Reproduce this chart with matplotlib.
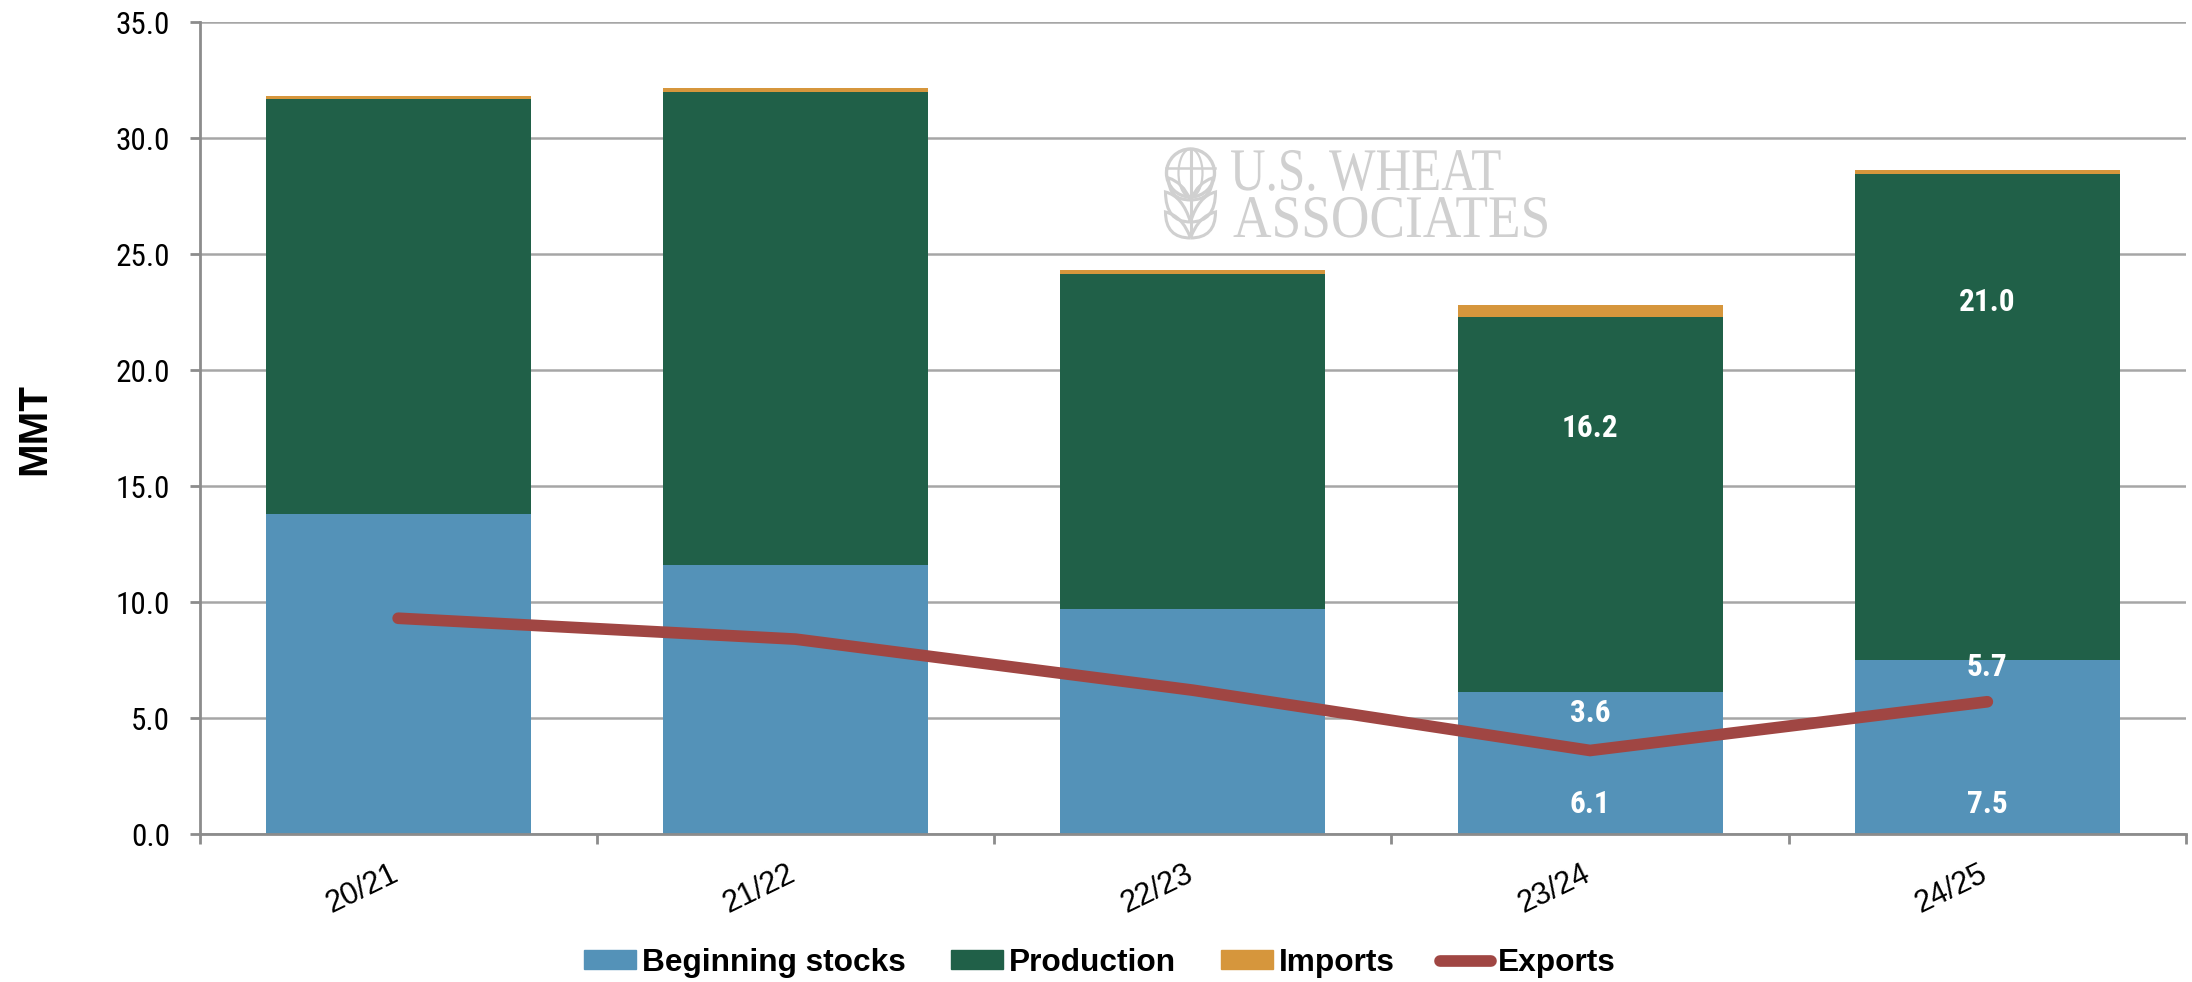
import matplotlib
matplotlib.use("Agg")
import matplotlib.pyplot as plt
from matplotlib.lines import Line2D
from matplotlib.patches import Circle, Ellipse, Patch, PathPatch
from matplotlib.path import Path
from matplotlib.patheffects import AbstractPathEffect
from matplotlib.transforms import Affine2D

COND = ['Roboto Condensed', 'Roboto', 'DejaVu Sans']
SANS = ['Liberation Sans', 'DejaVu Sans']
plt.rcParams['font.family'] = COND

# Values (MMT)
years = ["20/21", "21/22", "22/23", "23/24", "24/25"]
beginning = [13.8, 11.6, 9.7, 6.1, 7.5]
production = [17.9, 20.4, 14.45, 16.2, 20.95]
imports = [0.12, 0.15, 0.15, 0.5, 0.15]
exports = [9.3, 8.4, 6.2, 3.6, 5.7]
y_ticks = [0, 5, 10, 15, 20, 25, 30, 35]

BLUE = "#5492B8"
GREEN = "#206048"
ORANGE = "#D6963C"
RED = "#A04643"
GRID = "#A6A6A6"
AXIS = "#8C8C8C"
LOGO = "#D0D0D0"


class Squeeze(AbstractPathEffect):
    # reshapes the serif logo text, there is no condensed version of it
    def __init__(self, sx, sy):
        super().__init__()
        self.sx = sx
        self.sy = sy

    def draw_path(self, renderer, gc, tpath, affine, rgbFace=None):
        renderer.draw_path(gc, tpath, Affine2D().scale(self.sx, self.sy) + affine, rgbFace)


W, H = 2192, 982
fig = plt.figure(figsize=(W / 100, H / 100), dpi=100)
ax = fig.add_axes([199.5 / W, 1 - 834 / H, (2186 - 199.5) / W, (834 - 22) / H])

x = [i + 0.5 for i in range(len(years))]
bottom2 = [a + b for a, b in zip(beginning, production)]
ax.bar(x, beginning, width=0.667, color=BLUE, zorder=3)
ax.bar(x, production, width=0.667, bottom=beginning, color=GREEN, zorder=3)
ax.bar(x, imports, width=0.667, bottom=bottom2, color=ORANGE, zorder=3)
ax.plot(x, exports, color=RED, lw=8.4, solid_capstyle="round", solid_joinstyle="miter", zorder=4)

ax.set_xlim(0, 5)
ax.set_ylim(0, 35)
ax.set_yticks(y_ticks)
ax.set_yticklabels([f"{v:.1f}" for v in y_ticks], fontsize=22.5)
ax.set_xticks(range(6))
ax.set_xticklabels([])
# year labels sit left of the bar centres in the original
ax.set_xticks([c - 0.09 for c in x], minor=True)
ax.set_xticklabels(years, minor=True, fontsize=22, family=SANS, rotation=26, ha="center")
ax.tick_params(axis="x", which="minor", length=0, pad=18)
ax.tick_params(axis="x", which="major", length=7.5, width=2, color=AXIS)
ax.tick_params(axis="y", length=7, width=2, color=AXIS, pad=14)
ax.yaxis.grid(True, color=GRID, lw=1.8, zorder=1)
ax.set_axisbelow(True)
for s in ["top", "right"]:
    ax.spines[s].set_visible(False)
for s in ["left", "bottom"]:
    ax.spines[s].set_color(AXIS)
    ax.spines[s].set_linewidth(2)
    ax.spines[s].set_zorder(5)

fig.text(34 / W, 1 - 429 / H, "MMT", rotation=90, fontsize=29, fontweight="bold",
         family=SANS, ha="center", va="center")

# Data labels, only on the last two years
lab = dict(color="white", fontsize=22.5, fontweight="bold", ha="center", va="center", zorder=6)
ax.text(x[3], 1.3, "6.1", **lab)
ax.text(x[4], 1.3, "7.5", **lab)
ax.text(x[3], 5.2, "3.6", **lab)
ax.text(x[4], 7.2, "5.7", **lab)
ax.text(x[3], 17.5, "16.2", **lab)
ax.text(x[4], 22.95, "21.0", **lab)

# Watermark logo
t1 = fig.text(1230 / W, 1 - 190 / H, "U.S. WHEAT", family="Liberation Serif", fontsize=34,
              color=LOGO, ha="left", va="baseline", zorder=2)
t1.set_path_effects([Squeeze(1.043, 1.28)])
t2 = fig.text(1233 / W, 1 - 237 / H, "ASSOCIATES", family="Liberation Serif", fontsize=34,
              color=LOGO, ha="left", va="baseline", zorder=2)
t2.set_path_effects([Squeeze(1.13, 1.28)])

logo = fig.add_axes([1160 / W, 1 - 242 / H, 60 / W, 96 / H], zorder=2)
logo.set_xlim(1160, 1220)
logo.set_ylim(242, 146)
logo.axis("off")
logo.add_patch(Circle((1190.5, 173), 24, fc="none", ec=LOGO, lw=2.4))
logo.add_patch(Ellipse((1190.5, 173), 24, 48, fc="none", ec=LOGO, lw=1.6))
logo.plot([1166, 1215], [168, 168], color=LOGO, lw=1.8)
logo.plot([1190.5, 1190.5], [149, 236], color=LOGO, lw=2.2)
for base, tip, ctrl in [(200, 178, 22), (222, 192, 25), (238, 212, 25)]:
    for side in (-1, 1):
        leaf = Path([(1190.5, base), (1190.5 + side * ctrl, base), (1190.5 + side * ctrl, tip),
                     (1190.5 + side * 8, tip + 4), (1190.5, base)],
                    [Path.MOVETO, Path.CURVE3, Path.LINETO, Path.CURVE3, Path.LINETO])
        logo.add_patch(PathPatch(leaf, fc="none", ec=LOGO, lw=2.2))

handles = [Patch(color=BLUE, label="Beginning stocks"),
           Patch(color=GREEN, label="Production"),
           Patch(color=ORANGE, label="Imports"),
           Line2D([0], [0], color=RED, lw=8.4, solid_capstyle="round", label="Exports")]
fig.legend(handles=handles, loc="center left", bbox_to_anchor=(584 / W, 1 - 963 / H), ncol=4, frameon=False,
           prop={"family": SANS, "size": 22.8, "weight": "bold"}, handlelength=1.64, handleheight=0.54,
           handletextpad=0.19, columnspacing=1.42, borderpad=0, borderaxespad=0)

fig.savefig("out.png", dpi=100)
